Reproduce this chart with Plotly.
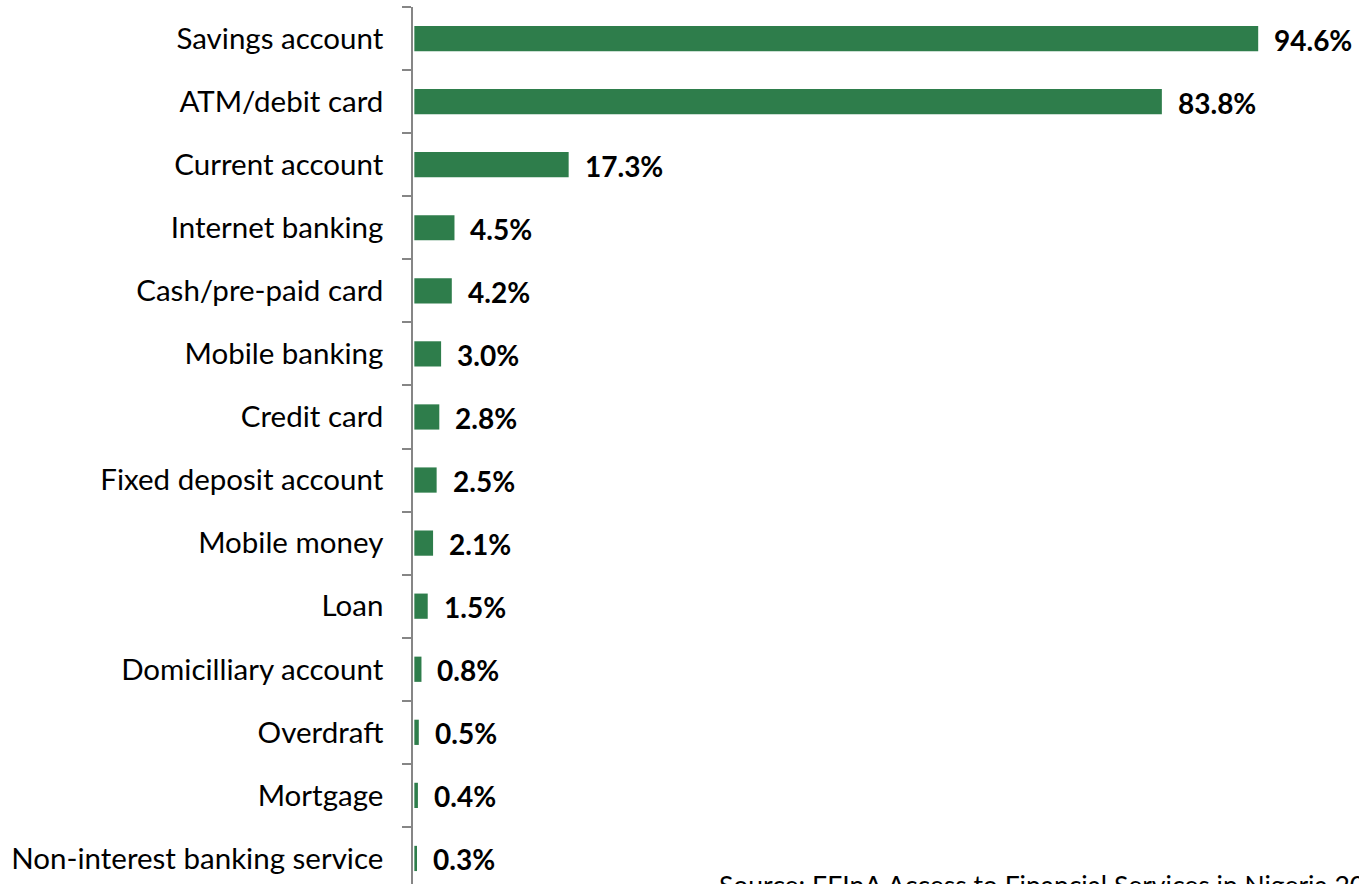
import plotly.graph_objects as go

# Share of banked adults using each product (%)
categories = [
    "Savings account",
    "ATM/debit card",
    "Current account",
    "Internet banking",
    "Cash/pre-paid card",
    "Mobile banking",
    "Credit card",
    "Fixed deposit account",
    "Mobile money",
    "Loan",
    "Domicilliary account",
    "Overdraft",
    "Mortgage",
    "Non-interest banking service",
]
values = [94.6, 83.8, 17.3, 4.5, 4.2, 3.0, 2.8, 2.5, 2.1, 1.5, 0.8, 0.5, 0.4, 0.3]
value_labels = [f"{v:.1f}%" for v in values]
source_text = "Source: EFInA Access to Financial Services in Nigeria 2016 Survey"

BAR_COLOR = "#2E7D4B"
FONT = "Lato"

fig = go.Figure(
    go.Bar(
        x=values,
        y=categories,
        orientation="h",
        marker=dict(color=BAR_COLOR, line=dict(width=0)),
        width=0.4,
        hoverinfo="x+y",
    )
)

# value labels to the right of each bar
for cat, v, lab in zip(categories, values, value_labels):
    fig.add_annotation(
        x=v, y=cat, text=f"<b>{lab}</b>", showarrow=False,
        xanchor="left", yanchor="middle", xshift=14, yshift=-1,
        font=dict(family=FONT, size=28, color="#000000"),
    )

fig.add_annotation(
    xref="paper", yref="paper", x=(717 - 413) / (1359 - 413), y=0,
    text=source_text, showarrow=False, xanchor="left", yanchor="top",
    yshift=17, font=dict(family=FONT, size=26.5, color="#000000"),
)

fig.update_layout(
    width=1359, height=884,
    margin=dict(l=413, r=0, t=7, b=0),
    paper_bgcolor="white", plot_bgcolor="white",
    showlegend=False,
    font=dict(family=FONT, size=29.5, color="#000000"),
    xaxis=dict(range=[-0.15, 105.9], visible=False, fixedrange=True),
    yaxis=dict(
        type="category",
        categoryorder="array", categoryarray=categories,
        range=[13.405, -0.5],
        showline=True, linecolor="#868686", linewidth=1.5,
        ticks="outside", tickson="boundaries", ticklen=9,
        tickcolor="#868686", tickwidth=1.5,
        ticklabelstandoff=22,
        showgrid=False, zeroline=False,
        tickfont=dict(family=FONT, size=29.5, color="#000000"),
    ),
)

fig.write_html("out.html")
